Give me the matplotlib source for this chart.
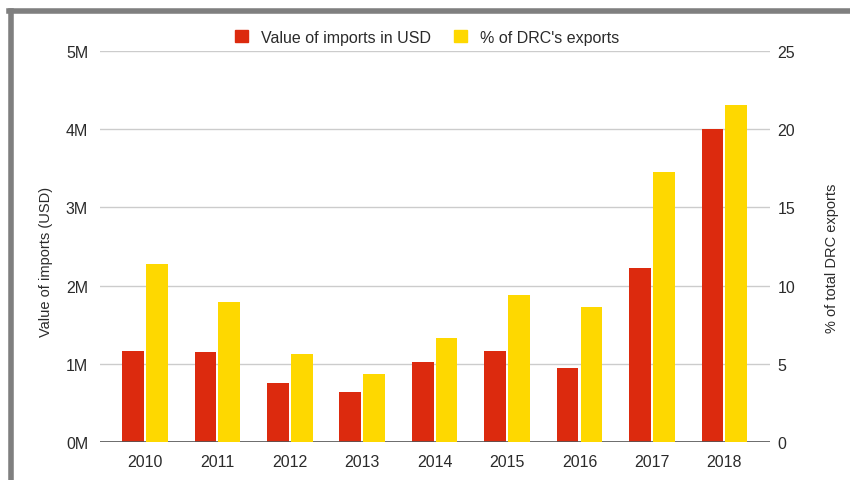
import matplotlib
matplotlib.use('Agg')
import matplotlib.pyplot as plt
from matplotlib.lines import Line2D
from matplotlib.patches import Patch
import numpy as np

plt.rcParams['font.family'] = ['Liberation Sans', 'DejaVu Sans']

# data
years = ['2010', '2011', '2012', '2013', '2014', '2015', '2016', '2017', '2018']
imports_musd = [1.17, 1.155, 0.76, 0.64, 1.02, 1.17, 0.94, 2.22, 4.0]
share_pct = [11.4, 8.97, 5.6, 4.33, 6.65, 9.4, 8.66, 17.29, 21.55]

red = '#dc2a0e'
yellow = '#fed800'
txt = '#2b2b2b'

W, H = 850, 481
fig = plt.figure(figsize=(W / 100, H / 100), dpi=100)
fig.patch.set_facecolor('white')

# plot area in pixels: x 100..770, y 52..443
ax = fig.add_axes([100 / W, 1 - 443 / H, 670 / W, (443 - 52) / H])
ax2 = ax.twinx()

x = np.arange(len(years))
bw = 0.30
ax.bar(x - bw / 2 - 0.015, imports_musd, width=bw, color=red, zorder=3)
ax2.bar(x + bw / 2 + 0.015, share_pct, width=bw, color=yellow, zorder=3)

ax.set_xlim(-0.62, len(years) - 1 + 0.63)
ax.set_ylim(0, 5)
ax2.set_ylim(0, 25)
ax.set_yticks(range(6))
ax.set_yticklabels([f'{i}M' for i in range(6)])
ax2.set_yticks(range(0, 26, 5))
ax.set_xticks(x)
ax.set_xticklabels(years)

ax.grid(axis='y', color='#cccccc', linewidth=1, zorder=0)
ax.set_axisbelow(True)
for a in (ax, ax2):
    for s in a.spines.values():
        s.set_visible(False)
    a.tick_params(length=0, labelsize=11.5, colors=txt)
ax.tick_params(axis='y', pad=8.5)
ax2.tick_params(axis='y', pad=5.5)
ax.tick_params(axis='x', pad=9)
ax.axhline(0, color='#555555', linewidth=1.2, zorder=4)

ax.set_ylabel('Value of imports (USD)', fontsize=10.5, color=txt)
ax.yaxis.set_label_coords(-0.070, 0.463)
ax2.set_ylabel('% of total DRC exports', fontsize=10.5, color=txt)
ax2.yaxis.set_label_coords(1.082, 0.473)

handles = [Patch(color=red), Patch(color=yellow)]
fig.legend(handles, ['Value of imports in USD', "% of DRC's exports"],
           loc='center', bbox_to_anchor=(427 / W, 1 - 38 / H), ncol=2,
           frameon=False, fontsize=11.5, handlelength=0.85, handleheight=0.85,
           handletextpad=0.8, columnspacing=1.4, labelcolor=txt)

# gray frame of the screenshot
fig.add_artist(Line2D([11 / W, 11 / W], [0, 1 - 12 / H], color='#7f7f7f',
                      linewidth=4, transform=fig.transFigure))
fig.add_artist(Line2D([9 / W, 1], [1 - 12 / H, 1 - 12 / H], color='#7f7f7f',
                      linewidth=4, transform=fig.transFigure))

fig.savefig('out.png', dpi=100)
